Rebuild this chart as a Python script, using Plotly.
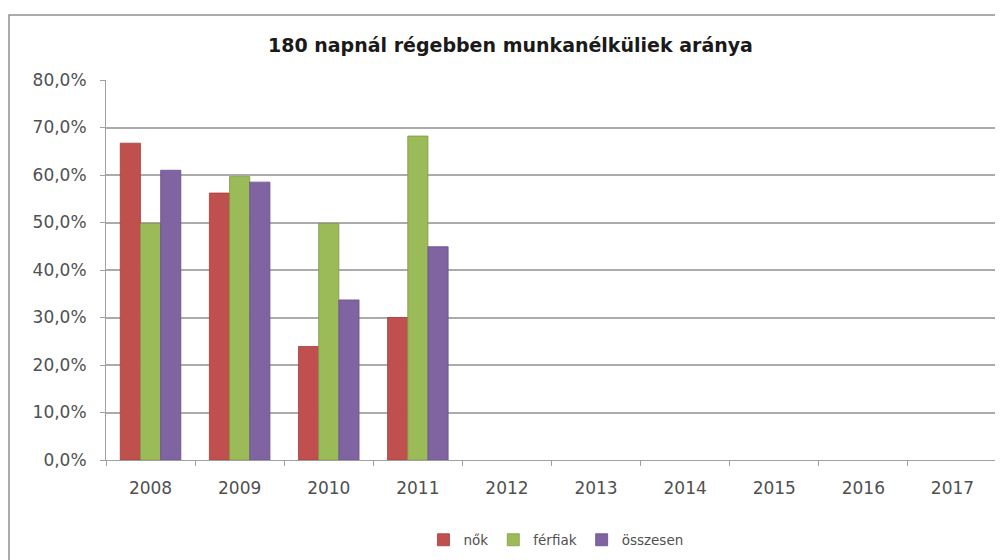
import plotly.graph_objects as go

years = ["2008", "2009", "2010", "2011", "2012", "2013", "2014", "2015", "2016", "2017"]
nok = [66.7, 56.2, 23.9, 30.0, None, None, None, None, None, None]
ferfiak = [49.8, 59.7, 49.8, 68.2, None, None, None, None, None, None]
osszesen = [61.0, 58.5, 33.7, 44.9, None, None, None, None, None, None]
y_ticks = [0, 10, 20, 30, 40, 50, 60, 70, 80]
y_labels = ["0,0%", "10,0%", "20,0%", "30,0%", "40,0%", "50,0%", "60,0%", "70,0%", "80,0%"]

fig = go.Figure()
for name, vals, col, edge in [
    ("nők", nok, "#C0504D", "#A33E3B"),
    ("férfiak", ferfiak, "#9BBB59", "#7F9A45"),
    ("összesen", osszesen, "#8064A2", "#67508A"),
]:
    fig.add_trace(go.Bar(x=years, y=vals, name=name,
                         marker=dict(color=col, line=dict(color=edge, width=0.8))))

W, H = 995, 552
L, R, T, B = 98, 6, 72, 100
PW, PH = W - L - R, H - T - B

fig.update_layout(
    width=W, height=H,
    paper_bgcolor="white", plot_bgcolor="white",
    barmode="group", bargap=0.32, bargroupgap=0,
    margin=dict(l=L, r=R, t=T, b=B, autoexpand=False),
    font=dict(family="DejaVu Sans", size=14, color="#505050"),
    title=dict(text="<b>180 napnál régebben munkanélküliek aránya</b>",
               x=0.505, xanchor="center", y=1 - 37 / H, yanchor="middle",
               font=dict(family="DejaVu Sans", size=19, color="#1a1a1a")),
    legend=dict(orientation="h", x=0.505, xanchor="center", y=-80 / PH, yanchor="middle",
                font=dict(size=13.5, color="#505050"), traceorder="normal", itemwidth=30),
    xaxis=dict(type="category", tickson="boundaries", ticks="outside", ticklen=5,
               tickcolor="#A0A0A0", showline=True, linecolor="#A0A0A0", linewidth=1,
               showgrid=False, ticklabelstandoff=13, tickfont=dict(size=17)),
    yaxis=dict(range=[0, 80], tickvals=y_ticks, ticktext=y_labels,
               ticks="outside", ticklen=5, tickcolor="#A0A0A0",
               showline=True, linecolor="#A0A0A0", linewidth=1,
               showgrid=True, gridcolor="#ABABAB", gridwidth=1.6,
               zeroline=False, ticklabelstandoff=10, tickfont=dict(size=17)),
    shapes=[dict(type="rect", xref="paper", yref="paper",
                 x0=-(L - 1) / PW, x1=1.0 + 8 / PW, y0=-(B + 10) / PH, y1=1 + (T - 7) / PH,
                 line=dict(color="#909090", width=1.5), fillcolor="rgba(0,0,0,0)",
                 layer="below")],
)

fig.write_html("out.html")
